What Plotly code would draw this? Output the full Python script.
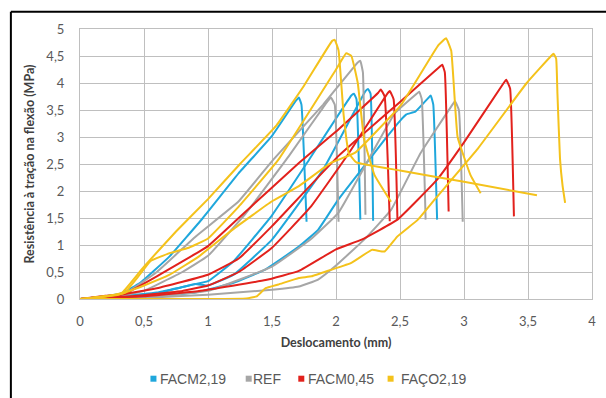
import plotly.graph_objects as go

# ---- data ----
b1_x = [0, 0.2, 0.33, 0.47, 0.70, 0.96, 1.24, 1.5, 1.68, 1.71, 1.73, 1.77]
b1_y = [0, 0.05, 0.11, 0.30, 0.79, 1.50, 2.33, 3.02, 3.65, 3.73, 3.6, 1.43]
b2_x = [0, 0.3, 0.6, 0.85, 1.0, 1.2, 1.5, 1.79, 2.12, 2.14, 2.16, 2.19]
b2_y = [0, 0.05, 0.12, 0.25, 0.33, 0.7, 1.55, 2.58, 3.77, 3.8, 3.7, 1.47]
b3_x = [0, 0.3, 0.6, 0.9, 1.0, 1.2, 1.5, 1.9, 2.23, 2.25, 2.27, 2.29]
b3_y = [0, 0.04, 0.1, 0.28, 0.25, 0.45, 1.1, 2.4, 3.85, 3.89, 3.8, 1.45]
b4_x = [0, 0.5, 0.9, 1.2, 1.45, 1.71, 1.86, 2.02, 2.2, 2.38, 2.5, 2.55, 2.62, 2.72, 2.74, 2.76, 2.79]
b4_y = [0, 0.04, 0.12, 0.3, 0.55, 0.97, 1.28, 1.85, 2.4, 2.95, 3.3, 3.42, 3.47, 3.72, 3.77, 3.6, 1.47]

g1_x = [0, 0.3, 0.5, 0.8, 1.0, 1.3, 1.63, 1.9, 1.96, 1.99, 2.02]
g1_y = [0, 0.05, 0.15, 0.5, 0.8, 1.6, 2.64, 3.55, 3.73, 3.6, 1.43]
g2_x = [0, 0.2, 0.35, 0.6, 0.9, 1.24, 1.51, 1.9, 2.17, 2.19, 2.21, 2.23]
g2_y = [0, 0.05, 0.1, 0.5, 1.15, 1.81, 2.58, 3.6, 4.38, 4.41, 4.2, 1.56]
g3_x = [0, 0.5, 1.0, 1.5, 1.8, 2.02, 2.46, 2.63, 2.65, 2.67, 2.70]
g3_y = [0, 0.03, 0.15, 0.6, 1.1, 1.6, 3.44, 3.8, 3.84, 3.7, 1.47]
g4_x = [0, 0.5, 1.0, 1.5, 1.71, 1.86, 2.0, 2.22, 2.43, 2.66, 2.91, 2.93, 2.96, 2.99]
g4_y = [0, 0.02, 0.08, 0.17, 0.23, 0.36, 0.62, 1.1, 1.65, 2.7, 3.6, 3.66, 3.5, 1.43]

r1_x = [0, 0.2, 0.35, 0.6, 1.0, 1.24, 1.71, 2.0, 2.33, 2.35, 2.38, 2.42]
r1_y = [0, 0.06, 0.1, 0.42, 0.98, 1.5, 2.52, 3.1, 3.82, 3.88, 3.75, 1.44]
r2_x = [0, 0.4, 0.8, 1.0, 1.24, 1.5, 1.8, 2.1, 2.40, 2.42, 2.45, 2.48]
r2_y = [0, 0.05, 0.15, 0.25, 0.5, 0.95, 1.7, 2.7, 3.8, 3.85, 3.7, 1.47]
r3_x = [0, 0.3, 0.6, 1.0, 1.24, 1.5, 2.02, 2.5, 2.81, 2.83, 2.85, 2.88]
r3_y = [0, 0.07, 0.2, 0.45, 0.75, 1.35, 2.65, 3.65, 4.3, 4.34, 4.2, 1.62]
r4_x = [0, 0.5, 0.93, 1.45, 1.71, 2.0, 2.2, 2.48, 2.79, 3.0, 3.31, 3.33, 3.36, 3.39]
r4_y = [0, 0.05, 0.15, 0.35, 0.52, 0.92, 1.1, 1.47, 2.21, 2.9, 4.0, 4.06, 3.9, 1.53]

y1_x = [0, 0.2, 0.33, 0.5, 0.75, 1.0, 1.25, 1.53, 1.75, 1.97, 1.99, 2.02, 2.06, 2.1, 2.16, 2.5, 3.0, 3.57]
y1_y = [0, 0.05, 0.12, 0.6, 1.25, 1.85, 2.5, 3.2, 3.95, 4.78, 4.8, 4.6, 3.4, 2.7, 2.53, 2.38, 2.17, 1.92]
y2_x = [0, 0.2, 0.35, 0.45, 0.55, 0.7, 0.85, 1.0, 1.24, 1.55, 2.0, 2.08, 2.12, 2.17, 2.22, 2.3, 2.43]
y2_y = [0, 0.05, 0.12, 0.4, 0.7, 0.85, 0.95, 1.12, 1.71, 2.58, 4.25, 4.55, 4.5, 4.0, 2.95, 2.3, 1.80]
y3_x = [0, 0.3, 0.5, 0.7, 0.93, 1.19, 1.5, 1.71, 1.96, 2.15, 2.51, 2.8, 2.86, 2.9, 2.95, 3.05, 3.13]
y3_y = [0, 0.08, 0.25, 0.45, 0.79, 1.28, 1.81, 2.09, 2.52, 2.71, 3.6, 4.7, 4.83, 4.6, 3.0, 2.3, 1.96]
y4_x = [0, 0.5, 1.0, 1.3, 1.38, 1.45, 1.55, 1.71, 1.81, 1.96, 2.12, 2.28, 2.38, 2.48, 2.64, 2.77, 3.10, 3.49, 3.68, 3.70, 3.72, 3.73, 3.75, 3.77, 3.79]
y4_y = [0, 0, 0, 0.01, 0.05, 0.2, 0.27, 0.39, 0.42, 0.54, 0.67, 0.91, 0.88, 1.16, 1.47, 1.84, 2.76, 4.0, 4.5, 4.54, 4.45, 3.8, 2.6, 2.1, 1.78]

series_names = ["FACM2,19", "REF", "FACM0,45", "FAÇO2,19"]
series_colors = ["#1FA7DC", "#A6A6A6", "#E2211C", "#F4C21B"]
x_ticks = [0, 0.5, 1, 1.5, 2, 2.5, 3, 3.5, 4]
x_tick_text = ["0", "0,5", "1", "1,5", "2", "2,5", "3", "3,5", "4"]
y_ticks = [0, 0.5, 1, 1.5, 2, 2.5, 3, 3.5, 4, 4.5, 5]
y_tick_text = ["0", "0,5", "1", "1,5", "2", "2,5", "3", "3,5", "4", "4,5", "5"]

curves = [
    (0, b1_x, b1_y), (0, b2_x, b2_y), (0, b3_x, b3_y), (0, b4_x, b4_y),
    (1, g1_x, g1_y), (1, g2_x, g2_y), (1, g3_x, g3_y), (1, g4_x, g4_y),
    (2, r1_x, r1_y), (2, r2_x, r2_y), (2, r3_x, r3_y), (2, r4_x, r4_y),
    (3, y1_x, y1_y), (3, y2_x, y2_y), (3, y3_x, y3_y), (3, y4_x, y4_y),
]

fig = go.Figure()
for si, xs, ys in curves:
    fig.add_trace(go.Scatter(x=xs, y=ys, mode="lines",
                             line=dict(color=series_colors[si], width=2, shape="spline", smoothing=0.3),
                             showlegend=False, hoverinfo="skip"))

# legend drawn by hand: coloured square shape + series name as text
L, W, T, H = 80, 516, 29, 270
square_px = [151, 247, 300, 390]
text_px = [159, 252, 308, 401]
legend_y = 378.7
annotations = []
shapes = []
for name, color, sp, tp in zip(series_names, series_colors, square_px, text_px):
    annotations.append(dict(
        xref="paper", yref="paper", x=(tp - L) / W, y=1 - (legend_y - T) / H,
        xanchor="left", yanchor="middle", showarrow=False, text=name,
        font=dict(family="Liberation Sans, Arial, sans-serif", size=14, color="#595959"),
    ))
    shapes.append(dict(
        type="rect", xref="paper", yref="paper", xsizemode="pixel", ysizemode="pixel",
        xanchor=(sp - L) / W, yanchor=1 - (legend_y - T) / H,
        x0=0, x1=6, y0=-3, y1=3, line=dict(width=0), fillcolor=color,
    ))

shapes += [
    dict(type="line", xref="paper", yref="paper", x0=-0.135, x1=1.1, y0=1.064, y1=1.064,
         line=dict(color="black", width=2)),
    dict(type="line", xref="paper", yref="paper", x0=-0.135, x1=-0.135, y0=1.064, y1=-0.5,
         line=dict(color="black", width=2)),
]

fig.update_layout(
    width=606, height=398,
    margin=dict(l=80, r=10, t=29, b=99),
    paper_bgcolor="white", plot_bgcolor="white",
    font=dict(family="Lato, Liberation Sans, sans-serif", color="#595959"),
    showlegend=False,
    xaxis=dict(range=[0, 4], tickvals=x_ticks, ticktext=x_tick_text, showgrid=True, gridcolor="#BFBFBF",
               gridwidth=1, zeroline=False, showline=True, linecolor="#BFBFBF", mirror=True, ticks="",
               tickfont=dict(size=13, color="#595959"), ticklabelstandoff=10,
               title=dict(text="<b>Deslocamento (mm)</b>", font=dict(size=12.5, color="#404040"), standoff=10)),
    yaxis=dict(range=[0, 5], tickvals=y_ticks, ticktext=y_tick_text, showgrid=True, gridcolor="#BFBFBF",
               gridwidth=1, zeroline=False, showline=True, linecolor="#BFBFBF", mirror=True, ticks="",
               tickfont=dict(size=13, color="#595959"), ticklabelstandoff=12,
               title=dict(text="<b>Resistência à tração na flexão (MPa)</b>", font=dict(size=12.5, color="#404040"), standoff=8)),
    annotations=annotations,
    shapes=shapes,
)
fig.write_html("out.html")
